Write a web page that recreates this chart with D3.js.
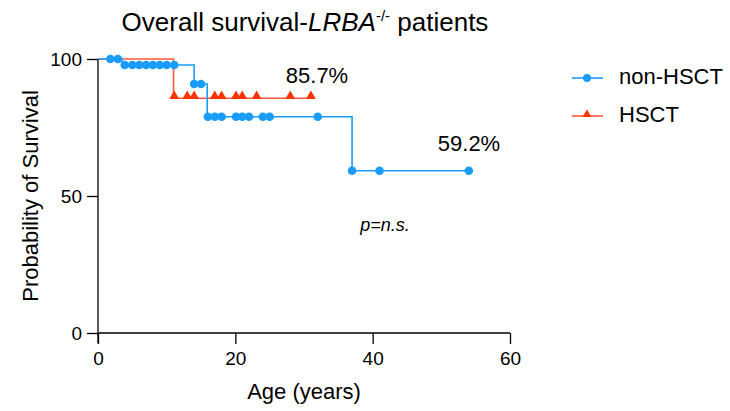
<!DOCTYPE html>
<html>
<head>
<meta charset="utf-8">
<script src="https://cdn.jsdelivr.net/npm/d3@7"></script>
<style>
  body { margin: 0; background: #fff; }
  svg { font-family: "Liberation Sans", Arial, sans-serif; }
</style>
</head>
<body>
<svg id="chart" width="730" height="411"></svg>
<script>
// Kaplan-Meier steps (time in years, survival %)
const nonHsctTimes = [0, 3.5, 14, 15.9, 37, 54];
const nonHsctSurv = [100, 97.8, 90.9, 78.9, 59.2, 59.2];
const nonHsctCensored = [1.8, 2.9, 3.9, 5, 6, 7, 8, 9, 10, 11.1, 14, 15, 16, 17, 18, 20.1, 21, 22, 24, 25, 32, 37, 41, 54];

const hsctTimes = [0, 11, 31];
const hsctSurv = [100, 85.7, 85.7];
const hsctCensored = [11.1, 13, 14, 17, 18, 20.1, 21, 23.1, 28, 31];

const xTicks = [0, 20, 40, 60];
const yTicks = [0, 50, 100];

const blue = '#1a9cff';
const red = '#ff3300';
const redLine = '#ff5a3c';

const svg = d3.select('#chart');
const x = d3.scaleLinear().domain([0, 60]).range([98, 510]);
const y = d3.scaleLinear().domain([0, 100]).range([333, 59]);

// survival value at time t from the step table
function survAt(times, surv, t) {
    let v = surv[0];
    times.forEach((tt, i) => { if (tt <= t) v = surv[i]; });
    return v;
}

// axes
svg.append('g')
    .attr('transform', 'translate(0,333)')
    .call(d3.axisBottom(x).tickValues(xTicks).tickSize(11).tickPadding(8))
    .call(g => g.select('.domain').attr('stroke-width', 1.3).attr('d', 'M98,0H510'))
    .call(g => g.selectAll('.tick line').attr('stroke-width', 1.3))
    .call(g => g.selectAll('text').style('font-size', '19px').attr('fill', '#000'));

svg.append('g')
    .attr('transform', 'translate(98,0)')
    .call(d3.axisLeft(y).tickValues(yTicks).tickSize(11).tickPadding(5))
    .call(g => g.select('.domain').attr('stroke-width', 1.3).attr('d', 'M0,59V343'))
    .call(g => g.selectAll('.tick line').attr('stroke-width', 1.3))
    .call(g => g.selectAll('text').style('font-size', '19px').attr('fill', '#000'));

const line = d3.line()
    .x(d => x(d[0]))
    .y(d => y(d[1]))
    .curve(d3.curveStepAfter);

// HSCT (red) drawn first
svg.append('path')
    .datum(d3.zip(hsctTimes, hsctSurv))
    .attr('d', line)
    .attr('fill', 'none')
    .attr('stroke', redLine)
    .attr('stroke-width', 1.6);

svg.append('path')
    .datum(d3.zip(nonHsctTimes, nonHsctSurv))
    .attr('d', line)
    .attr('fill', 'none')
    .attr('stroke', blue)
    .attr('stroke-width', 1.6);

const tri = d3.symbol().type(d3.symbolTriangle).size(42);

svg.append('g').selectAll('path')
    .data(hsctCensored)
    .join('path')
    .attr('d', tri)
    .attr('transform', d => `translate(${x(d)},${y(survAt(hsctTimes, hsctSurv, d)) - 2})`)
    .attr('fill', red);

svg.append('g').selectAll('circle')
    .data(nonHsctCensored)
    .join('circle')
    .attr('cx', d => x(d))
    .attr('cy', d => y(survAt(nonHsctTimes, nonHsctSurv, d)))
    .attr('r', 4.3)
    .attr('fill', blue);

// annotations
svg.append('text').attr('x', 317).attr('y', 83).attr('text-anchor', 'middle')
    .style('font-size', '22px').text('85.7%');
svg.append('text').attr('x', 469).attr('y', 151).attr('text-anchor', 'middle')
    .style('font-size', '22px').text('59.2%');
svg.append('text').attr('x', 385).attr('y', 231).attr('text-anchor', 'middle')
    .style('font-size', '18px').style('font-style', 'italic').text('p=n.s.');

// title
const title = svg.append('text').attr('x', 305).attr('y', 31).attr('text-anchor', 'middle')
    .style('font-size', '26px');
title.append('tspan').text('Overall survival-');
title.append('tspan').style('font-style', 'italic').text('LRBA');
title.append('tspan').attr('dy', -10).style('font-size', '15px').text('-/-');
title.append('tspan').attr('dy', 10).text(' patients');

// axis titles
svg.append('text').attr('x', 304).attr('y', 399).attr('text-anchor', 'middle')
    .style('font-size', '22px').text('Age (years)');
svg.append('text')
    .attr('transform', 'translate(38,196) rotate(-90)')
    .attr('text-anchor', 'middle')
    .style('font-size', '22px').text('Probability of Survival');

// legend
const legend = [
    { name: 'non-HSCT', color: blue, shape: 'circle' },
    { name: 'HSCT', color: red, shape: 'triangle' }
];
legend.forEach((d, i) => {
    const ly = 78 + i * 38;
    svg.append('line').attr('x1', 572).attr('x2', 603).attr('y1', ly).attr('y2', ly)
        .attr('stroke', d.shape === 'circle' ? blue : redLine).attr('stroke-width', 1.6);
    if (d.shape === 'circle') {
        svg.append('circle').attr('cx', 587).attr('cy', ly).attr('r', 4).attr('fill', d.color);
    } else {
        svg.append('path').attr('d', d3.symbol().type(d3.symbolTriangle).size(34))
            .attr('transform', `translate(587,${ly - 1.5})`).attr('fill', d.color);
    }
    svg.append('text').attr('x', 619).attr('y', ly + 6)
        .style('font-size', '22px').text(d.name);
});
</script>
</body>
</html>
